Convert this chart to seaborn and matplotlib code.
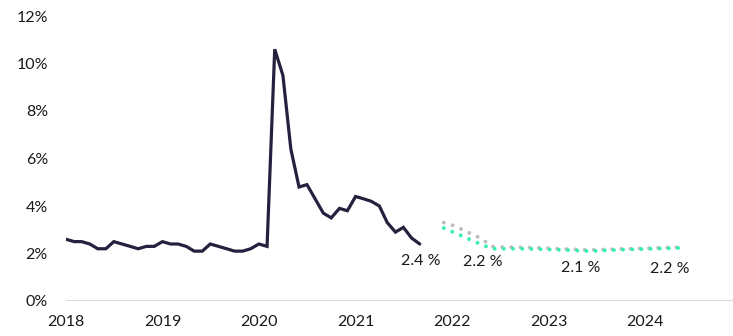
import numpy as np
import pandas as pd
import matplotlib
matplotlib.use("Agg")
import matplotlib.pyplot as plt
import matplotlib.dates as mdates
import seaborn as sns

# Monthly unemployment rate, actual outturn (Jan 2018 - Sep 2021), in %
actual_start = "2018-01-01"
actual = [
    2.6, 2.5, 2.5, 2.4, 2.2, 2.2, 2.5, 2.4, 2.3, 2.2, 2.3, 2.3,
    2.5, 2.4, 2.4, 2.3, 2.1, 2.1, 2.4, 2.3, 2.2, 2.1, 2.1, 2.2,
    2.4, 2.3, 10.6, 9.5, 6.4, 4.8, 4.9, 4.3, 3.7, 3.5, 3.9, 3.8,
    4.4, 4.3, 4.2, 4.0, 3.3, 2.9, 3.1, 2.65, 2.4,
]

# Projections (Dec 2021 - Jun 2024), in %
forecast_start = "2021-12-01"
forecast_prev = [
    3.3, 3.2, 3.05, 2.9, 2.75, 2.55, 2.3, 2.27, 2.27, 2.26, 2.26, 2.25,
    2.23, 2.22, 2.2, 2.19, 2.18, 2.16, 2.15, 2.16, 2.17, 2.18, 2.19, 2.2,
    2.21, 2.22, 2.23, 2.24, 2.25, 2.26, 2.27,
]
forecast_new = [
    3.07, 2.92, 2.77, 2.63, 2.48, 2.34, 2.2, 2.2, 2.2, 2.2, 2.2, 2.19,
    2.18, 2.17, 2.16, 2.15, 2.13, 2.12, 2.1, 2.11, 2.13, 2.14, 2.16, 2.17,
    2.18, 2.19, 2.2, 2.21, 2.22, 2.23, 2.24,
]

# Data labels: (month, series) - the label text is the series value at that month
label_points = [("2021-09-01", "actual"), ("2022-06-01", "new"),
                ("2023-06-01", "new"), ("2024-06-01", "new")]
year_ticks = list(range(2018, 2025))

df_actual = pd.DataFrame({
    "date": pd.date_range(actual_start, periods=len(actual), freq="MS"),
    "rate": actual,
})
df_prev = pd.DataFrame({
    "date": pd.date_range(forecast_start, periods=len(forecast_prev), freq="MS"),
    "rate": forecast_prev,
})
df_new = pd.DataFrame({
    "date": pd.date_range(forecast_start, periods=len(forecast_new), freq="MS"),
    "rate": forecast_new,
})
series = {"actual": df_actual, "new": df_new, "prev": df_prev}

sns.set_theme(style="white")
plt.rcParams["font.family"] = ["Lato", "DejaVu Sans"]

fig = plt.figure(figsize=(7.33, 3.36), dpi=100)
ax = fig.add_axes([66 / 733, 35 / 336, 667 / 733, 285 / 336])

navy = "#24213F"
teal = "#33F0B0"
grey = "#BDBDBD"

dots = (0, (0.01, 2.35))
sns.lineplot(data=df_prev, x="date", y="rate", ax=ax, color=grey, lw=2.8,
             linestyle=dots, dash_capstyle="round")
sns.lineplot(data=df_new, x="date", y="rate", ax=ax, color=teal, lw=2.8,
             linestyle=dots, dash_capstyle="round")
sns.lineplot(data=df_actual, x="date", y="rate", ax=ax, color=navy, lw=2.3,
             solid_joinstyle="miter")

# value labels below the lines
offsets = [(1, -17), (-9, -13), (-8, -17), (-15, -21)]
for (d, key), (dx, dy) in zip(label_points, offsets):
    s = series[key]
    v = float(s.loc[s["date"] == pd.Timestamp(d), "rate"].iloc[0])
    ax.annotate(f"{v:.1f} %", xy=(pd.Timestamp(d), v), xytext=(dx, dy),
                textcoords="offset pixels", ha="center", va="center",
                fontsize=11.5, color="#1A1A1A")

ax.set_ylim(0, 12)
ax.set_yticks(range(0, 13, 2))
ax.set_yticklabels([f"{t}%" for t in range(0, 13, 2)])
x0 = pd.Timestamp("2018-01-01")
ax.set_xlim(x0, x0 + pd.Timedelta(days=365.25 * 667 / 96.5))
ax.set_xticks([pd.Timestamp(f"{y}-01-01") for y in year_ticks])
ax.xaxis.set_major_formatter(mdates.DateFormatter("%Y"))

ax.axhline(0, color="#D9D9D9", lw=1.5, zorder=0)
for sp in ax.spines.values():
    sp.set_visible(False)
ax.grid(False)
ax.set_xlabel("")
ax.set_ylabel("")
ax.tick_params(axis="y", length=0, pad=13, labelsize=11.5, labelcolor="#1A1A1A")
ax.tick_params(axis="x", length=0, pad=10, labelsize=11.5, labelcolor="#1A1A1A")

fig.savefig("out.png", dpi=100)
